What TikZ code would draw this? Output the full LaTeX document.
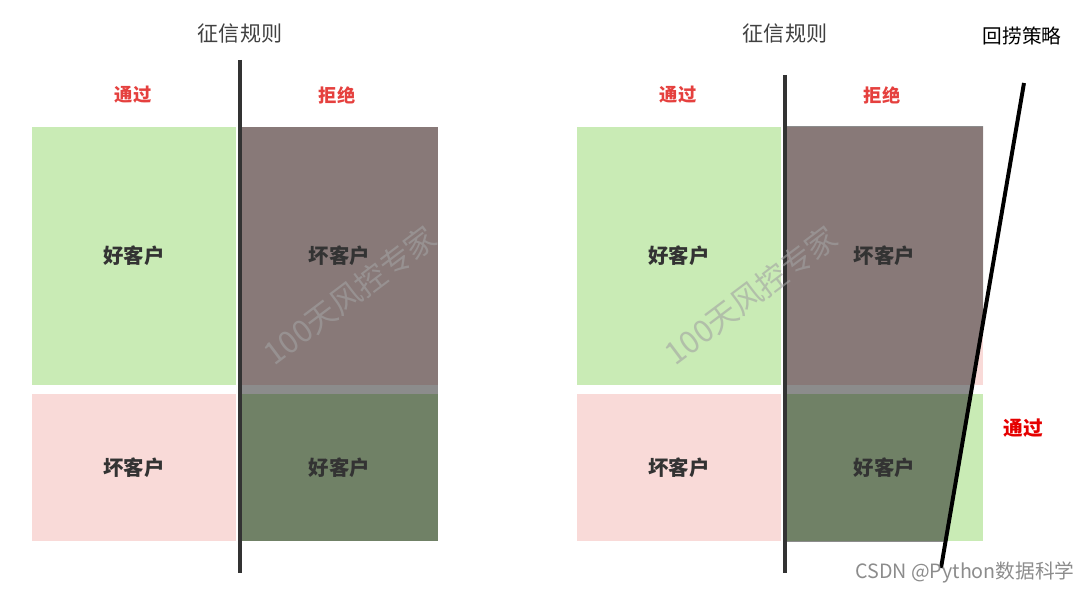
\documentclass[tikz,border=0pt]{standalone}
\usepackage{fontspec}
\setmainfont{Noto Sans CJK SC}
\usetikzlibrary{positioning}

\definecolor{goodfill}{HTML}{C9EBB5}
\definecolor{badfill}{HTML}{F9DAD8}
\definecolor{passred}{HTML}{E5403E}
\definecolor{rulegray}{HTML}{333333}
\definecolor{stampgray}{HTML}{A2A2A2}

\tikzset{
  cell/.style={inner sep=0pt, outer sep=0pt},
  top cell/.style={cell, minimum height=6.45cm},
  low cell/.style={cell, minimum height=3.675cm},
  pass col/.style={minimum width=5.1cm},
  reject col/.style={minimum width=4.925cm},
  shade/.style={fill=black!90, fill opacity=0.5},
  kind/.style={font=\bfseries\fontsize{14.5}{16}\selectfont, text=black!80},
  verdict/.style={font=\bfseries\fontsize{13}{15}\selectfont, text=passred},
  title/.style={font=\fontsize{15}{17}\selectfont, text=black!75},
  cutline/.style={line width=2.8pt, draw=rulegray},
  stamp/.style={font=\fontsize{22}{24}\selectfont, text=stampgray, text opacity=0.6, rotate=37}
}

\begin{document}
\begin{tikzpicture}[x=0.025cm, y=-0.025cm]

\useasboundingbox (0,0) rectangle (1080,590);

% base cells of both panels
\foreach \p/\dx in {l/0, r/545} {
  \node [top cell, pass col, fill=goodfill] (\p-good-pass) at (134+\dx,256) {};
  \node [top cell, reject col, fill=badfill] (\p-bad-rej) at (339.5+\dx,256) {};
  \node [low cell, pass col, fill=badfill] (\p-bad-pass) at (134+\dx,467.5) {};
  \node [low cell, reject col, fill=goodfill] (\p-good-rej) at (339.5+\dx,467.5) {};
}

% rejected part, left panel
\fill [shade] (l-bad-rej.north west) rectangle (l-good-rej.south east);

% rejected part, right panel: cut by the recall line
\coordinate (recall-top) at (1024,83);
\coordinate (recall-bot) at (941,568);
\begin{scope}
  \clip (r-bad-rej.north west) rectangle (r-good-rej.south east);
  \fill [shade] (786,83) -- (recall-top) -- (recall-bot) -- (786,568) -- cycle;
\end{scope}

% labels
\foreach \p/\dx in {l/0, r/545} {
  \node [kind] (\p-good-pass-t) at (\p-good-pass) {好客户};
  \node [kind] (\p-bad-rej-t) at (\p-bad-rej) {坏客户};
  \node [kind] (\p-bad-pass-t) at (\p-bad-pass) {坏客户};
  \node [kind] (\p-good-rej-t) at (\p-good-rej) {好客户};
  \node [verdict] (\p-pass) at (133+\dx,95) {通过};
  \node [verdict] (\p-rej) at (337+\dx,95) {拒绝};
  \node [title] (\p-rule) at (240+\dx,34) {征信规则};
  \coordinate (\p-cut-bot) at (240+\dx,573);
}
\coordinate (l-cut-top) at (240,60);
\coordinate (r-cut-top) at (785,75);

\draw [cutline] (l-cut-top) -- (l-cut-bot);
\draw [cutline] (r-cut-top) -- (r-cut-bot);
\draw [line width=2.8pt] (recall-top) -- (recall-bot);

\node [font=\fontsize{14}{16}\selectfont] (recall) at (1022,36) {回捞策略};
\node [font=\bfseries\fontsize{14}{16}\selectfont, text=red!90!black] (recall-pass) at (1023,428) {通过};

% watermarks
\node [stamp] (mark-l) at (350,295) {100天风控专家};
\node [stamp] (mark-r) at (751,295) {100天风控专家};
\node [font=\fontsize{14}{16}\selectfont, text=gray!90] (csdn) at (965,572) {CSDN @Python数据科学};

\end{tikzpicture}
\end{document}
